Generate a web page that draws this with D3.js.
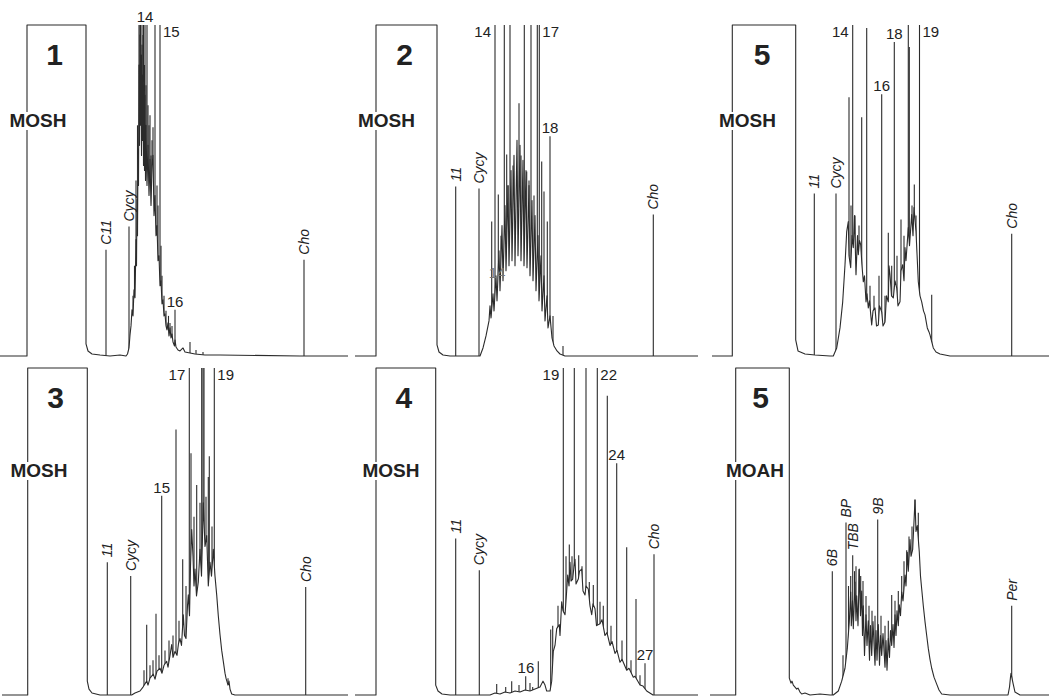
<!DOCTYPE html>
<html>
<head>
<meta charset="utf-8">
<script src="https://cdn.jsdelivr.net/npm/d3@7"></script>
<style>
  body { margin: 0; background: #fff; }
  svg { display: block; }
</style>
</head>
<body>
<div id="chart"></div>
<script>
// Chromatograms: retention time in min, signal in mV (full scale = 330, solvent peak off-scale)
const trace1 = [[0,0],[2.7,0],[2.7,400],[8.6,400],[8.6,12],[8.8,5],[9.2,2],[10,1],[11,0],[12,1],[12.6,0],[12.75,2],[12.9,8],[13.0,21],[13.1,30],[13.2,46],[13.3,40],[13.4,66],[13.5,58],[13.6,116],[13.65,90],[13.7,156],[13.75,120],[13.8,206],[13.85,170],[13.9,290],[13.95,210],[14.0,320],[14.05,230],[14.1,300],[14.15,200],[14.2,310],[14.25,215],[14.3,280],[14.35,190],[14.4,270],[14.45,185],[14.5,260],[14.55,175],[14.6,230],[14.7,170],[14.8,210],[14.9,160],[15.0,196],[15.1,150],[15.2,190],[15.3,200],[15.4,140],[15.5,160],[15.6,120],[15.7,130],[15.8,95],[15.9,100],[16.0,70],[16.1,75],[16.2,52],[16.3,56],[16.4,40],[16.5,42],[16.6,30],[16.7,26],[16.8,33],[16.9,20],[17.0,28],[17.1,18],[17.2,22],[17.3,14],[17.45,10],[17.5,16],[17.6,9],[17.8,6],[18.0,5],[18.3,8],[18.5,4],[19.0,3],[19.5,2],[20.5,1],[22,1],[30,0],[34.8,0]];
const spikes1 = [[10.6,106],[12.9,129],[13.3,60],[13.45,90],[13.6,175],[13.75,230],[13.9,400],[14.0,330],[14.05,400],[14.15,300],[14.2,400],[14.3,320],[14.35,400],[14.45,290],[14.5,400],[14.6,270],[14.7,400],[14.8,250],[14.9,230],[15.0,240],[15.1,200],[15.2,215],[15.3,228],[15.5,400],[15.7,170],[15.8,150],[16.0,400],[16.1,110],[16.2,80],[16.4,60],[16.6,45],[16.85,40],[17.0,33],[17.2,30],[17.5,46],[18.3,8],[19.0,14],[19.6,6],[20.3,4],[30.4,96]];
const labels1 = [[10.6,106,'C11','rot'],[12.9,129,'Cycy','rot'],[14.5,330,'14','above'],[16.0,400,'15','right'],[17.5,46,'16','above'],[30.4,96,'Cho','rot']];

const trace2 = [[0.5,0],[2.6,0],[2.6,400],[8.7,400],[8.7,11],[8.9,4],[9.3,1],[10,0],[13.0,0],[13.3,8],[13.6,20],[13.9,35],[14.0,50],[14.1,38],[14.3,62],[14.4,45],[14.6,80],[14.7,55],[14.9,105],[15.0,65],[15.2,130],[15.3,75],[15.5,150],[15.6,85],[15.8,170],[15.9,90],[16.1,185],[16.2,95],[16.4,200],[16.5,90],[16.7,215],[16.8,100],[17.0,210],[17.1,95],[17.3,195],[17.4,90],[17.6,185],[17.7,88],[17.9,170],[18.0,80],[18.2,155],[18.3,75],[18.5,140],[18.6,65],[18.8,120],[18.9,55],[19.1,100],[19.2,45],[19.4,80],[19.5,35],[19.7,60],[19.8,28],[20.0,40],[20.2,18],[20.4,10],[20.7,5],[21.0,2],[21.5,0],[34.8,0]];
const spikes2 = [[10.57,169],[12.9,167],[14.17,134],[14.5,400],[14.83,161],[15.1,120],[15.43,400],[15.67,201],[15.8,170],[16.0,400],[16.3,190],[16.67,180],[16.9,252],[17.1,200],[17.43,400],[17.67,184],[17.9,175],[18.1,400],[18.4,160],[18.73,400],[18.93,400],[19.17,194],[19.4,164],[19.73,134],[20.0,219],[20.3,40],[21.3,10],[30.33,141]];
const labels2 = [[10.57,169,'11','rot'],[12.9,167,'Cycy','rot'],[14.5,400,'14','left'],[18.93,400,'17','right'],[20.0,219,'18','above'],[14.7,75,'14','ghost'],[30.33,141,'Cho','rot']];

const trace5a = [[1.2,0],[3.23,0],[3.23,400],[9.57,400],[9.57,16],[9.8,5],[10.5,2],[11.5,1],[13.0,0],[13.33,0],[13.67,8],[14.0,28],[14.27,54],[14.5,91],[14.67,124],[14.83,134],[14.9,100],[15.07,88],[15.2,120],[15.33,108],[15.45,140],[15.6,81],[15.75,120],[15.83,101],[15.95,115],[16.07,111],[16.2,90],[16.33,74],[16.45,80],[16.6,54],[16.7,62],[16.83,48],[16.95,55],[17.17,31],[17.3,45],[17.5,48],[17.65,30],[17.83,31],[17.95,50],[18.17,44],[18.3,30],[18.5,34],[18.65,60],[18.83,54],[18.9,90],[19.0,81],[19.15,60],[19.33,58],[19.5,75],[19.67,68],[19.8,50],[20.0,54],[20.1,85],[20.27,91],[20.4,75],[20.5,108],[20.6,95],[20.83,128],[20.95,110],[21.17,141],[21.3,120],[21.4,148],[21.6,124],[21.83,74],[22.0,60],[22.17,54],[22.35,45],[22.5,41],[22.73,28],[22.9,24],[23.0,21],[23.33,8],[23.6,4],[24.0,2],[25.0,0],[34.9,0]];
const spikes5a = [[11.43,162],[13.6,162],[14.6,100],[14.9,258],[15.1,150],[15.27,400],[15.5,140],[15.9,130],[16.17,238],[16.67,327],[17.0,70],[17.4,60],[17.9,80],[18.17,261],[18.5,60],[18.83,123],[19.17,90],[19.43,313],[19.7,100],[20.1,136],[20.4,120],[20.83,400],[20.93,308],[21.2,150],[21.43,171],[21.6,140],[21.95,400],[23.17,61],[31.17,122]];
const labels5a = [[11.43,162,'11','rot'],[13.6,162,'Cycy','rot'],[15.27,400,'14','left'],[18.17,261,'16','above'],[19.43,313,'18','above'],[21.95,400,'19','right'],[31.17,122,'Cho','rot']];

const trace3 = [[0.2,0],[2.77,0],[2.77,400],[8.73,400],[8.73,14],[8.9,6],[9.2,2],[10,0],[13.17,0],[13.5,2],[14.0,4],[14.3,8],[14.67,14],[14.8,10],[15.0,17],[15.33,21],[15.5,16],[15.7,24],[16.0,27],[16.2,22],[16.4,30],[16.67,34],[16.8,28],[17.0,40],[17.17,51],[17.3,38],[17.5,44],[17.7,40],[17.85,52],[18.0,57],[18.15,50],[18.33,81],[18.45,60],[18.6,57],[18.75,90],[18.83,101],[18.95,80],[19.05,130],[19.17,167],[19.3,140],[19.4,110],[19.5,127],[19.65,100],[19.83,114],[20.0,147],[20.15,120],[20.33,194],[20.5,150],[20.67,161],[20.83,110],[21.0,134],[21.15,120],[21.33,147],[21.5,120],[21.67,101],[21.83,80],[22.0,61],[22.17,45],[22.33,34],[22.5,22],[22.6,17],[22.8,10],[22.9,14],[23.0,6],[23.17,1],[23.5,0],[34.8,0]];
const spikes3 = [[10.73,134],[13.07,120],[14.4,25],[14.67,71],[15.0,30],[15.3,35],[15.6,82],[15.9,40],[16.17,201],[16.5,45],[16.9,55],[17.3,60],[17.6,268],[17.9,75],[18.27,137],[18.6,110],[18.93,400],[19.1,244],[19.4,180],[19.67,212],[20.0,194],[20.17,400],[20.3,400],[20.4,400],[20.6,200],[20.83,220],[20.93,241],[21.2,170],[21.43,400],[22.8,17],[30.57,109]];
const labels3 = [[10.73,134,'11','rot'],[13.07,120,'Cycy','rot'],[16.17,201,'15','above'],[18.93,400,'17','left'],[21.43,400,'19','right'],[30.57,109,'Cho','rot']];

const trace4 = [[0.5,0],[2.6,0],[2.6,400],[8.57,400],[8.57,10],[8.8,4],[9.2,1],[10,0],[14.0,0],[14.5,2],[15.0,1],[15.5,3],[16.0,2],[16.5,4],[17.0,3],[17.5,5],[18.0,4],[18.5,6],[19.0,8],[19.3,14],[19.5,10],[19.67,4],[20.0,4],[20.17,14],[20.33,44],[20.5,50],[20.67,67],[20.93,71],[21.0,60],[21.17,94],[21.3,85],[21.5,81],[21.6,95],[21.77,121],[21.9,110],[22.0,134],[22.1,115],[22.27,117],[22.4,130],[22.5,137],[22.6,112],[22.83,117],[22.95,125],[23.17,127],[23.3,105],[23.5,101],[23.6,110],[23.83,107],[24.0,90],[24.17,81],[24.3,92],[24.5,87],[24.65,70],[25.0,72],[25.2,76],[25.5,60],[25.7,63],[26.0,50],[26.2,54],[26.5,42],[26.7,45],[27.0,33],[27.2,36],[27.67,25],[27.9,27],[28.33,18],[28.5,19],[29.0,10],[29.3,9],[29.67,4],[30.3,0],[34.8,0]];
const spikes4 = [[10.57,158],[12.93,126],[14.67,11],[15.57,8],[16.17,14],[16.9,10],[17.57,19],[18.0,12],[18.27,8],[18.83,34],[20.07,66],[20.27,70],[20.8,90],[21.33,400],[21.6,140],[21.93,152],[22.2,140],[22.43,400],[22.87,141],[23.2,130],[23.6,400],[23.93,114],[24.33,111],[24.73,400],[25.0,94],[25.33,90],[25.73,302],[26.1,70],[26.67,234],[27.2,55],[27.67,149],[28.1,35],[28.6,97],[29.0,20],[29.5,32],[30.4,142]];
const labels4 = [[10.57,158,'11','rot'],[12.93,126,'Cycy','rot'],[18.83,34,'16','left'],[21.33,400,'19','left'],[24.73,400,'22','right'],[26.67,234,'24','above'],[29.5,32,'27','above'],[30.4,142,'Cho','rot']];

const trace5b = [[1.0,0],[3.57,0],[3.57,400],[8.93,400],[8.93,17],[9.1,12],[9.2,14],[9.33,10],[9.5,8],[9.67,6],[9.8,7],[10.0,3],[10.17,1],[10.5,2],[11.0,0],[12.0,1],[13.0,0],[13.33,0],[13.83,4],[14.17,14],[14.5,27],[14.73,47],[14.93,74],[15.07,104],[15.13,70],[15.25,95],[15.33,67],[15.5,114],[15.6,75],[15.67,100],[15.8,70],[15.93,127],[16.05,80],[16.17,105],[16.25,60],[16.33,90],[16.45,40],[16.6,81],[16.7,50],[16.83,75],[16.95,35],[17.05,70],[17.17,40],[17.3,74],[17.5,30],[17.6,65],[17.7,35],[17.83,71],[17.95,30],[18.05,60],[18.17,40],[18.3,62],[18.5,28],[18.6,55],[18.7,25],[18.83,57],[18.95,38],[19.05,65],[19.17,50],[19.3,71],[19.4,48],[19.5,81],[19.6,60],[19.7,85],[19.83,70],[19.93,91],[20.05,80],[20.17,104],[20.3,95],[20.5,121],[20.6,110],[20.73,144],[20.83,125],[21.0,157],[21.1,140],[21.27,147],[21.4,175],[21.5,197],[21.6,165],[21.73,171],[21.93,144],[22.05,120],[22.17,107],[22.33,90],[22.5,74],[22.67,60],[22.83,47],[23.0,36],[23.17,27],[23.4,18],[23.67,11],[23.9,5],[24.17,1],[25,0],[30.8,0],[30.95,8],[31.05,18],[31.1,22],[31.3,12],[31.5,3],[32,0],[34.9,0]];
const spikes5b = [[13.23,125],[14.3,40],[14.6,174],[14.85,110],[15.07,120],[15.27,141],[15.45,125],[15.6,130],[15.9,127],[16.07,120],[16.3,115],[16.6,100],[16.9,90],[17.2,85],[17.5,80],[17.77,177],[18.1,80],[18.5,70],[18.83,75],[19.17,101],[19.5,95],[19.83,105],[20.17,120],[20.4,135],[20.67,146],[20.9,160],[21.2,170],[21.5,197],[21.83,184],[31.17,90]];
const labels5b = [[13.23,125,'6B','rot'],[14.6,174,'BP','rot'],[15.27,141,'TBB','rot'],[17.77,177,'9B','rot'],[31.17,90,'Per','rot']];

const sampleIds = ['1', '2', '5', '3', '4', '5'];
const fractions = ['MOSH', 'MOSH', 'MOSH', 'MOSH', 'MOSH', 'MOAH'];
const traces = [trace1, trace2, trace5a, trace3, trace4, trace5b];
const spikeSets = [spikes1, spikes2, spikes5a, spikes3, spikes4, spikes5b];
const labelSets = [labels1, labels2, labels5a, labels3, labels4, labels5b];

// layout
const width = 1049, height = 696;
const rows = [{ base: 356, top: 25, tagY: 120 }, { base: 695, top: 368, tagY: 470 }];
const slots = [
  { x0: 0, row: 0, tagT: 3.8 }, { x0: 350, row: 0, tagT: 3.65 }, { x0: 700, row: 0, tagT: 4.75 },
  { x0: 0, row: 1, tagT: 3.9 }, { x0: 350, row: 1, tagT: 4.1 }, { x0: 700, row: 1, tagT: 5.5 },
];
const font = '"Liberation Sans", Arial, Helvetica, sans-serif';
const ink = '#222';

const svg = d3.select('#chart').append('svg')
  .attr('width', width).attr('height', height)
  .attr('viewBox', `0 0 ${width} ${height}`)
  .style('font-family', font);

traces.forEach((trace, i) => {
  const slot = slots[i];
  const row = rows[slot.row];
  const x = d3.scaleLinear().domain([0, 35]).range([slot.x0, slot.x0 + 350]);
  const y = d3.scaleLinear().domain([0, 330]).range([row.base, row.top]).clamp(true);
  const g = svg.append('g');

  // peaks first, the trace area (white) hides their foot inside the hump
  g.selectAll('line.peak').data(spikeSets[i]).join('line')
    .attr('class', 'peak')
    .attr('x1', (d) => x(d[0])).attr('x2', (d) => x(d[0]))
    .attr('y1', y(0)).attr('y2', (d) => y(d[1]))
    .attr('stroke', '#2b2b2b').attr('stroke-width', 1.1);

  g.append('path').datum(trace)
    .attr('d', d3.area().x((d) => x(d[0])).y0(y(0)).y1((d) => y(d[1])))
    .attr('fill', '#fff');
  g.append('path').datum(trace)
    .attr('d', d3.line().x((d) => x(d[0])).y((d) => y(d[1])))
    .attr('fill', 'none').attr('stroke', '#2b2b2b').attr('stroke-width', 1.1)
    .attr('stroke-linejoin', 'round');

  // sample number inside solvent box
  const solvent = trace.filter((d) => d[1] >= 400);
  const boxMid = (solvent[0][0] + solvent[solvent.length - 1][0]) / 2;
  g.append('text')
    .attr('x', x(boxMid) - 2).attr('y', row.top + 40)
    .attr('text-anchor', 'middle')
    .attr('font-size', 30).attr('font-weight', 700).attr('fill', ink)
    .text(sampleIds[i]);

  // fraction tag over the box edge
  const tag = g.append('text')
    .attr('x', x(slot.tagT)).attr('y', row.tagY + 7)
    .attr('text-anchor', 'middle')
    .attr('font-size', 19).attr('font-weight', 700).attr('fill', ink)
    .text(fractions[i]);
  const bb = tag.node().getBBox();
  g.insert('rect', () => tag.node())
    .attr('x', bb.x - 1).attr('y', bb.y + 2).attr('width', bb.width + 2).attr('height', bb.height - 3)
    .attr('fill', '#fff');

  // peak labels
  labelSets[i].forEach(([t, h, text, kind]) => {
    const px = x(t), py = y(h);
    if (kind === 'rot') {
      g.append('text')
        .attr('transform', `translate(${px},${py - 5}) rotate(-90)`)
        .attr('dy', '0.35em')
        .attr('font-size', 14).attr('font-style', 'italic').attr('fill', ink)
        .text(text);
    } else {
      const lbl = g.append('text')
        .attr('font-size', 15).attr('fill', kind === 'ghost' ? '#777' : ink)
        .text(text);
      if (kind === 'above' || kind === 'ghost') {
        lbl.attr('x', px).attr('y', py - 8 + 5).attr('text-anchor', 'middle');
      } else if (kind === 'left') {
        lbl.attr('x', px - 4).attr('y', py + 12).attr('text-anchor', 'end');
      } else {
        lbl.attr('x', px + 3).attr('y', py + 12).attr('text-anchor', 'start');
      }
    }
  });
});
</script>
</body>
</html>
